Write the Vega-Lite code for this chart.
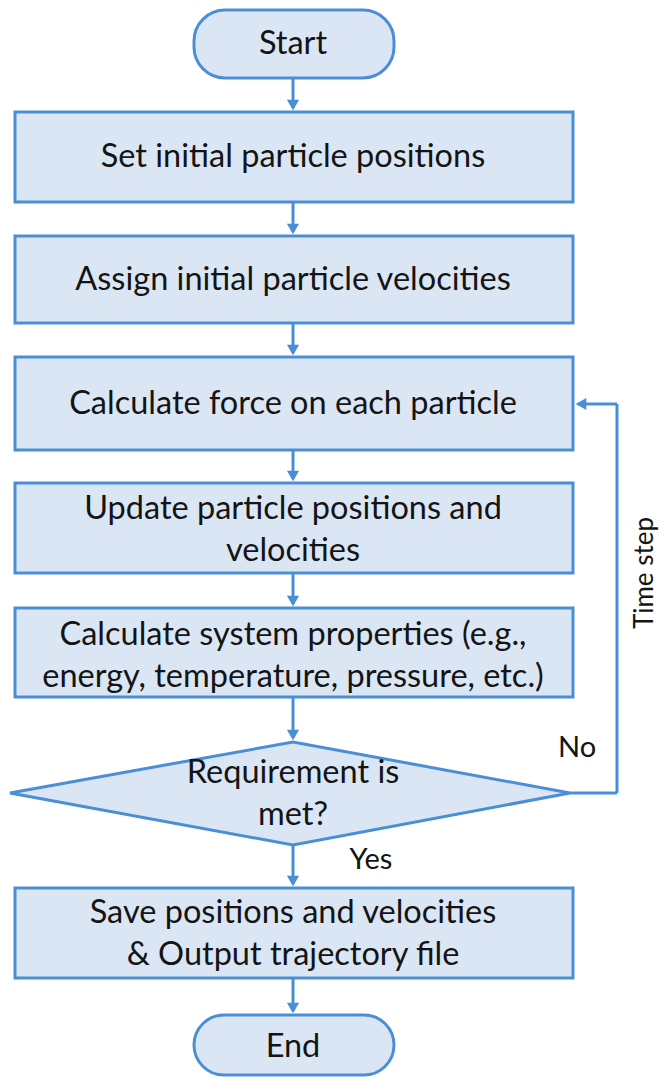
{
  "$schema": "https://vega.github.io/schema/vega-lite/v6.json",
  "width": 662,
  "height": 1081,
  "autosize": {"type": "fit", "contains": "padding"},
  "padding": 0,
  "background": "white",
  "config": {"view": {"stroke": null}},
  "datasets": {
    "boxes": [
      {"name": "Set", "x": 15, "x2": 573, "y": 112, "y2": 202},
      {"name": "Assign", "x": 15, "x2": 573, "y": 236, "y2": 323},
      {"name": "Force", "x": 15, "x2": 573, "y": 357, "y2": 450},
      {"name": "Update", "x": 15, "x2": 573, "y": 483, "y2": 573},
      {"name": "Props", "x": 15, "x2": 573, "y": 608, "y2": 697},
      {"name": "Save", "x": 15, "x2": 573, "y": 888, "y2": 978}
    ],
    "terminals": [
      {"name": "Start", "x": 194, "x2": 394, "y": 10, "y2": 78},
      {"name": "End", "x": 194, "x2": 394, "y": 1015, "y2": 1075}
    ],
    "diamond": [
      {"x": 10, "top": 793, "bottom": 793},
      {"x": 293, "top": 742, "bottom": 845},
      {"x": 570, "top": 793, "bottom": 793}
    ],
    "rules": [
      {"x": 293, "y": 78, "x2": 293, "y2": 108},
      {"x": 293, "y": 202, "x2": 293, "y2": 232},
      {"x": 293, "y": 323, "x2": 293, "y2": 353},
      {"x": 293, "y": 450, "x2": 293, "y2": 479},
      {"x": 293, "y": 573, "x2": 293, "y2": 604},
      {"x": 293, "y": 697, "x2": 293, "y2": 738},
      {"x": 293, "y": 845, "x2": 293, "y2": 884},
      {"x": 293, "y": 978, "x2": 293, "y2": 1011},
      {"x": 570, "y": 793, "x2": 617, "y2": 793},
      {"x": 617, "y": 793, "x2": 617, "y2": 404},
      {"x": 617, "y": 404, "x2": 578, "y2": 404}
    ],
    "arrowsDown": [
      {"x": 293, "y": 105},
      {"x": 293, "y": 229},
      {"x": 293, "y": 350},
      {"x": 293, "y": 476},
      {"x": 293, "y": 601},
      {"x": 293, "y": 735},
      {"x": 293, "y": 881},
      {"x": 293, "y": 1008}
    ],
    "arrowsLeft": [
      {"x": 581, "y": 404}
    ],
    "labels": [
      {"x": 293, "y": 44, "text": "Start"},
      {"x": 293, "y": 157, "text": "Set initial particle positions"},
      {"x": 293, "y": 280, "text": "Assign initial particle velocities"},
      {"x": 293, "y": 404, "text": "Calculate force on each particle"},
      {"x": 293, "y": 509, "text": "Update particle positions and"},
      {"x": 293, "y": 551, "text": "velocities"},
      {"x": 293, "y": 635, "text": "Calculate system properties (e.g.,"},
      {"x": 293, "y": 677, "text": "energy, temperature, pressure, etc.)"},
      {"x": 293, "y": 773, "text": "Requirement is"},
      {"x": 293, "y": 815, "text": "met?"},
      {"x": 293, "y": 913, "text": "Save positions and velocities"},
      {"x": 293, "y": 955, "text": "& Output trajectory file"},
      {"x": 293, "y": 1047, "text": "End"}
    ],
    "smallLabels": [
      {"x": 577, "y": 748, "text": "No"},
      {"x": 371, "y": 860, "text": "Yes"}
    ],
    "vlabels": [
      {"x": 645, "y": 573, "text": "Time step"}
    ]
  },
  "layer": [
    {
      "data": {"name": "rules"},
      "mark": {"type": "rule", "stroke": "#4a8fd6", "strokeWidth": 3},
      "encoding": {
        "x": {"field": "x", "type": "quantitative", "scale": {"domain": [0, 662], "nice": false, "zero": false}, "axis": null},
        "x2": {"field": "x2"},
        "y": {"field": "y", "type": "quantitative", "scale": {"domain": [0, 1081], "nice": false, "zero": false, "reverse": true}, "axis": null},
        "y2": {"field": "y2"}
      }
    },
    {
      "data": {"name": "boxes"},
      "mark": {"type": "rect", "fill": "#dbe6f5", "stroke": "#4a8fd6", "strokeWidth": 3},
      "encoding": {
        "x": {"field": "x", "type": "quantitative", "scale": {"domain": [0, 662], "nice": false, "zero": false}, "axis": null},
        "x2": {"field": "x2"},
        "y": {"field": "y", "type": "quantitative", "scale": {"domain": [0, 1081], "nice": false, "zero": false, "reverse": true}, "axis": null},
        "y2": {"field": "y2"}
      }
    },
    {
      "data": {"name": "terminals"},
      "mark": {"type": "rect", "fill": "#dbe6f5", "stroke": "#4a8fd6", "strokeWidth": 3, "cornerRadius": 31},
      "encoding": {
        "x": {"field": "x", "type": "quantitative", "scale": {"domain": [0, 662], "nice": false, "zero": false}, "axis": null},
        "x2": {"field": "x2"},
        "y": {"field": "y", "type": "quantitative", "scale": {"domain": [0, 1081], "nice": false, "zero": false, "reverse": true}, "axis": null},
        "y2": {"field": "y2"}
      }
    },
    {
      "data": {"name": "diamond"},
      "mark": {"type": "area", "fill": "#dbe6f5", "fillOpacity": 1, "stroke": "#4a8fd6", "strokeWidth": 3, "orient": "vertical"},
      "encoding": {
        "x": {"field": "x", "type": "quantitative", "scale": {"domain": [0, 662], "nice": false, "zero": false}, "axis": null},
        "y": {"field": "top", "type": "quantitative", "scale": {"domain": [0, 1081], "nice": false, "zero": false, "reverse": true}, "axis": null},
        "y2": {"field": "bottom"}
      }
    },
    {
      "data": {"name": "arrowsDown"},
      "mark": {"type": "point", "shape": "triangle-down", "filled": true, "fill": "#4a8fd6", "opacity": 1, "size": 150},
      "encoding": {
        "x": {"field": "x", "type": "quantitative", "scale": {"domain": [0, 662], "nice": false, "zero": false}, "axis": null},
        "y": {"field": "y", "type": "quantitative", "scale": {"domain": [0, 1081], "nice": false, "zero": false, "reverse": true}, "axis": null}
      }
    },
    {
      "data": {"name": "arrowsLeft"},
      "mark": {"type": "point", "shape": "triangle-left", "filled": true, "fill": "#4a8fd6", "opacity": 1, "size": 150},
      "encoding": {
        "x": {"field": "x", "type": "quantitative", "scale": {"domain": [0, 662], "nice": false, "zero": false}, "axis": null},
        "y": {"field": "y", "type": "quantitative", "scale": {"domain": [0, 1081], "nice": false, "zero": false, "reverse": true}, "axis": null}
      }
    },
    {
      "data": {"name": "labels"},
      "mark": {"type": "text", "font": "Lato", "fontSize": 32.5, "fill": "#141414", "align": "center", "baseline": "middle"},
      "encoding": {
        "x": {"field": "x", "type": "quantitative", "scale": {"domain": [0, 662], "nice": false, "zero": false}, "axis": null},
        "y": {"field": "y", "type": "quantitative", "scale": {"domain": [0, 1081], "nice": false, "zero": false, "reverse": true}, "axis": null},
        "text": {"field": "text", "type": "nominal"}
      }
    },
    {
      "data": {"name": "smallLabels"},
      "mark": {"type": "text", "font": "Lato", "fontSize": 29, "fill": "#141414", "align": "center", "baseline": "middle"},
      "encoding": {
        "x": {"field": "x", "type": "quantitative", "scale": {"domain": [0, 662], "nice": false, "zero": false}, "axis": null},
        "y": {"field": "y", "type": "quantitative", "scale": {"domain": [0, 1081], "nice": false, "zero": false, "reverse": true}, "axis": null},
        "text": {"field": "text", "type": "nominal"}
      }
    },
    {
      "data": {"name": "vlabels"},
      "mark": {"type": "text", "font": "Lato", "fontSize": 26, "fill": "#141414", "align": "center", "baseline": "middle", "angle": 270},
      "encoding": {
        "x": {"field": "x", "type": "quantitative", "scale": {"domain": [0, 662], "nice": false, "zero": false}, "axis": null},
        "y": {"field": "y", "type": "quantitative", "scale": {"domain": [0, 1081], "nice": false, "zero": false, "reverse": true}, "axis": null},
        "text": {"field": "text", "type": "nominal"}
      }
    }
  ]
}
